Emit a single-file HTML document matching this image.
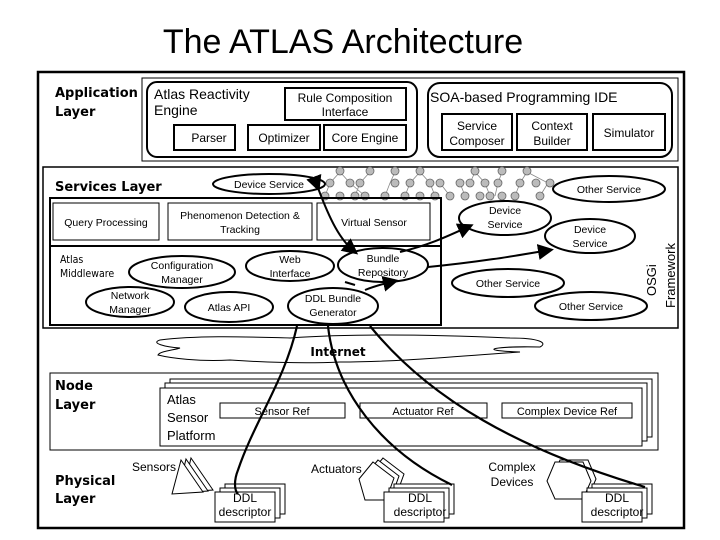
<!DOCTYPE html>
<html><head><meta charset="utf-8"><style>
body{margin:0;background:#fff}
svg{display:block}
text{font-family:"Liberation Sans",sans-serif;fill:#000}
.b{font-family:"DejaVu Sans",sans-serif;font-weight:bold}
.c{font-family:"DejaVu Sans Condensed","DejaVu Sans",sans-serif}
</style></head><body>
<svg width="720" height="540" viewBox="0 0 720 540">
<defs><marker id="ar" markerWidth="8" markerHeight="8" refX="6" refY="4" orient="auto"><path d="M0,0 L8,4 L0,8 z" fill="#000"/></marker></defs>
<text x="343" y="53" font-size="34" text-anchor="middle">The ATLAS Architecture</text>
<rect x="38" y="72" width="646" height="456" fill="none" stroke="#000" stroke-width="2.5"/>
<!-- application layer -->
<text x="55" y="97" font-size="13" class="b">Application</text>
<text x="55" y="116" font-size="13" class="b">Layer</text>
<rect x="142" y="78" width="536" height="83" fill="none" stroke="#000" stroke-width="1"/>
<rect x="147" y="82" width="270" height="75" rx="10" fill="none" stroke="#000" stroke-width="2"/>
<text x="154" y="99" font-size="14">Atlas Reactivity</text>
<text x="154" y="115" font-size="14">Engine</text>
<rect x="285" y="88" width="121" height="32" fill="none" stroke="#000" stroke-width="2"/>
<text x="345" y="102" font-size="12" text-anchor="middle">Rule Composition</text>
<text x="345" y="116" font-size="12" text-anchor="middle">Interface</text>
<rect x="174" y="125" width="61" height="25" fill="none" stroke="#000" stroke-width="2"/>
<text x="209" y="142" font-size="12" text-anchor="middle">Parser</text>
<rect x="248" y="125" width="72" height="25" fill="none" stroke="#000" stroke-width="2"/>
<text x="284" y="142" font-size="12" text-anchor="middle">Optimizer</text>
<rect x="324" y="125" width="82" height="25" fill="none" stroke="#000" stroke-width="2"/>
<text x="365" y="142" font-size="12" text-anchor="middle">Core Engine</text>
<rect x="428" y="83" width="244" height="74" rx="12" fill="none" stroke="#000" stroke-width="2"/>
<text x="430" y="102" font-size="14">SOA-based Programming IDE</text>
<rect x="442" y="114" width="70" height="36" fill="none" stroke="#000" stroke-width="2"/>
<text x="477" y="130" font-size="12" text-anchor="middle">Service</text>
<text x="477" y="145" font-size="12" text-anchor="middle">Composer</text>
<rect x="517" y="114" width="70" height="36" fill="none" stroke="#000" stroke-width="2"/>
<text x="552" y="130" font-size="12" text-anchor="middle">Context</text>
<text x="552" y="145" font-size="12" text-anchor="middle">Builder</text>
<rect x="593" y="114" width="72" height="36" fill="none" stroke="#000" stroke-width="2"/>
<text x="629" y="137" font-size="12" text-anchor="middle">Simulator</text>
<!-- services layer -->
<rect x="43" y="167" width="635" height="161" fill="none" stroke="#000" stroke-width="1.5"/>
<text x="55" y="191" font-size="13" class="b">Services Layer</text>
<g fill="#bbb" stroke="#666" stroke-width="0.8">
<g stroke="#888" fill="none">
<path d="M340,172 L330,183 L325,196 M340,172 L350,183 M370,172 L360,183 M395,172 L390,183 L385,196 M420,172 L410,183 L405,196 M420,172 L430,183 L435,196 M475,172 L470,183 M475,172 L485,183 L490,196 M502,172 L498,183 L495,196 M527,172 L520,183 L515,196 M527,172 L548,183 L540,196 M440,183 L450,196 M460,183 L465,196 M360,183 L355,196 M350,183 L365,196"/>
</g>
<circle cx="340" cy="171" r="4"/><circle cx="370" cy="171" r="4"/><circle cx="395" cy="171" r="4"/><circle cx="420" cy="171" r="4"/><circle cx="475" cy="171" r="4"/><circle cx="502" cy="171" r="4"/><circle cx="527" cy="171" r="4"/>
<circle cx="330" cy="183" r="4"/><circle cx="350" cy="183" r="4"/><circle cx="360" cy="183" r="4"/><circle cx="395" cy="183" r="4"/><circle cx="410" cy="183" r="4"/><circle cx="430" cy="183" r="4"/><circle cx="440" cy="183" r="4"/><circle cx="460" cy="183" r="4"/><circle cx="470" cy="183" r="4"/><circle cx="485" cy="183" r="4"/><circle cx="498" cy="183" r="4"/><circle cx="520" cy="183" r="4"/><circle cx="536" cy="183" r="4"/><circle cx="550" cy="183" r="4"/>
<circle cx="325" cy="196" r="4"/><circle cx="340" cy="196" r="4"/><circle cx="355" cy="196" r="4"/><circle cx="365" cy="196" r="4"/><circle cx="385" cy="196" r="4"/><circle cx="405" cy="196" r="4"/><circle cx="420" cy="196" r="4"/><circle cx="435" cy="196" r="4"/><circle cx="450" cy="196" r="4"/><circle cx="465" cy="196" r="4"/><circle cx="480" cy="196" r="4"/><circle cx="490" cy="196" r="4"/><circle cx="502" cy="196" r="4"/><circle cx="515" cy="196" r="4"/><circle cx="540" cy="196" r="4"/>
</g>
<g fill="#fff" stroke="#000" stroke-width="2">
<ellipse cx="269" cy="184" rx="56" ry="10"/>
<rect x="50" y="198" width="391" height="127" fill="none"/>
<line x1="50" y1="246" x2="441" y2="246"/>
<rect x="53" y="203" width="106" height="37" stroke-width="1"/>
<rect x="168" y="203" width="144" height="37" stroke-width="1"/>
<rect x="317" y="203" width="113" height="37" stroke-width="1"/>
<ellipse cx="182" cy="272" rx="53" ry="16"/>
<ellipse cx="290" cy="266" rx="44" ry="15"/>
<ellipse cx="383" cy="265" rx="45" ry="17"/>
<ellipse cx="130" cy="302" rx="44" ry="15"/>
<ellipse cx="229" cy="307" rx="44" ry="15"/>
<ellipse cx="333" cy="306" rx="45" ry="18"/>
<ellipse cx="505" cy="218" rx="46" ry="17"/>
<ellipse cx="590" cy="236" rx="45" ry="17"/>
<ellipse cx="609" cy="189" rx="56" ry="13"/>
<ellipse cx="508" cy="283" rx="56" ry="14"/>
<ellipse cx="591" cy="306" rx="56" ry="14"/>
</g>
<g font-size="10.5" class="c" text-anchor="middle">
<text x="269" y="188">Device Service</text>
<text x="106" y="226">Query Processing</text>
<text x="240" y="219">Phenomenon Detection &amp;</text>
<text x="240" y="233">Tracking</text>
<text x="374" y="226">Virtual Sensor</text>
<text x="182" y="269">Configuration</text>
<text x="182" y="283">Manager</text>
<text x="290" y="263">Web</text>
<text x="290" y="277">Interface</text>
<text x="383" y="262">Bundle</text>
<text x="383" y="276">Repository</text>
<text x="130" y="299">Network</text>
<text x="130" y="313">Manager</text>
<text x="229" y="311">Atlas API</text>
<text x="333" y="302">DDL Bundle</text>
<text x="333" y="316">Generator</text>
<text x="505" y="214">Device</text>
<text x="505" y="228">Service</text>
<text x="590" y="233">Device</text>
<text x="590" y="247">Service</text>
<text x="609" y="193">Other Service</text>
<text x="508" y="287">Other Service</text>
<text x="591" y="310">Other Service</text>
</g>
<text x="60" y="263" font-size="10.5" class="c">Atlas</text>
<text x="60" y="277" font-size="10.5" class="c">Middleware</text>
<text transform="translate(656,296) rotate(-90)" font-size="13">OSGi</text>
<text transform="translate(675,308) rotate(-90)" font-size="13">Framework</text>
<g fill="none" stroke="#000" stroke-width="2">
<path d="M318,188 C330,220 340,240 355,252" marker-end="url(#ar)" marker-start="url(#ar)"/>
<path d="M400,252 C430,245 450,235 470,226" marker-end="url(#ar)"/>
<path d="M428,267 C480,262 520,255 550,250" marker-end="url(#ar)"/>
<path d="M365,290 C370,288 378,285 395,281" marker-end="url(#ar)"/>
<path d="M345,282 L355,285"/>
</g>
<!-- internet cloud -->
<path d="M160,340 C200,335 250,337 290,338 C360,333 440,335 510,338 C540,338 548,343 540,347 C500,346 470,350 520,352 C460,356 400,362 340,362 C300,364 260,362 230,360 C200,362 170,358 158,355 C160,351 175,350 180,348 C165,347 150,343 160,340 Z" fill="none" stroke="#000" stroke-width="1"/>
<text x="338" y="356" font-size="12" class="b" text-anchor="middle">Internet</text>
<!-- node layer -->
<text x="55" y="390" font-size="13" class="b">Node</text>
<text x="55" y="409" font-size="13" class="b">Layer</text>
<rect x="50" y="373" width="608" height="77" fill="none" stroke="#000" stroke-width="1"/>
<g fill="#fff" stroke="#000" stroke-width="1">
<rect x="170" y="379" width="482" height="58"/>
<rect x="165" y="383" width="482" height="58"/>
<rect x="160" y="388" width="482" height="58"/>
<rect x="220" y="403" width="125" height="15"/>
<rect x="360" y="403" width="127" height="15"/>
<rect x="502" y="403" width="130" height="15"/>
</g>
<g font-size="13" fill="#000"><text x="167" y="404">Atlas</text><text x="167" y="422">Sensor</text><text x="167" y="440">Platform</text></g>
<g font-size="11" text-anchor="middle"><text x="282" y="415">Sensor Ref</text><text x="423" y="415">Actuator Ref</text><text x="567" y="415">Complex Device Ref</text></g>
<!-- physical layer -->
<text x="55" y="485" font-size="13" class="b">Physical</text>
<text x="55" y="503" font-size="13" class="b">Layer</text>
<g font-size="12"><text x="132" y="471">Sensors</text><text x="311" y="473">Actuators</text><text x="512" y="471" text-anchor="middle">Complex</text><text x="512" y="486" text-anchor="middle">Devices</text></g>
<g fill="#fff" stroke="#000" stroke-width="1">
<path d="M191,458 L213,490 L183,492 Z"/><path d="M186,459 L208,491 L178,493 Z"/><path d="M181,460 L203,492 L172,494 Z"/>
<path d="M383,458 L404,474 L396,496 L375,496 L369,475 Z"/><path d="M378,460 L399,476 L391,498 L370,498 L364,477 Z"/><path d="M373,462 L394,478 L386,500 L365,500 L359,479 Z"/>
<path d="M560,460 L588,460 L596,479 L588,497 L560,497 L552,479 Z"/><path d="M555,462 L583,462 L591,481 L583,499 L555,499 L547,481 Z"/>
<rect x="225" y="484" width="60" height="30"/><rect x="220" y="488" width="60" height="30"/><rect x="215" y="492" width="60" height="30"/>
<rect x="394" y="484" width="60" height="30"/><rect x="389" y="488" width="60" height="30"/><rect x="384" y="492" width="60" height="30"/>
<rect x="592" y="484" width="60" height="30"/><rect x="587" y="488" width="60" height="30"/><rect x="582" y="492" width="60" height="30"/>
</g>
<g font-size="12" text-anchor="middle"><text x="245" y="502">DDL</text><text x="245" y="516">descriptor</text><text x="420" y="502">DDL</text><text x="420" y="516">descriptor</text><text x="617" y="502">DDL</text><text x="617" y="516">descriptor</text></g>
<g fill="none" stroke="#000" stroke-width="2.2">
<path d="M297,326 C285,380 255,420 238,470 C234,480 234,490 238,494"/>
<path d="M328,326 C335,390 380,450 452,485"/>
<path d="M370,326 C430,400 520,450 645,487"/>
</g>
</svg>
</body></html>
